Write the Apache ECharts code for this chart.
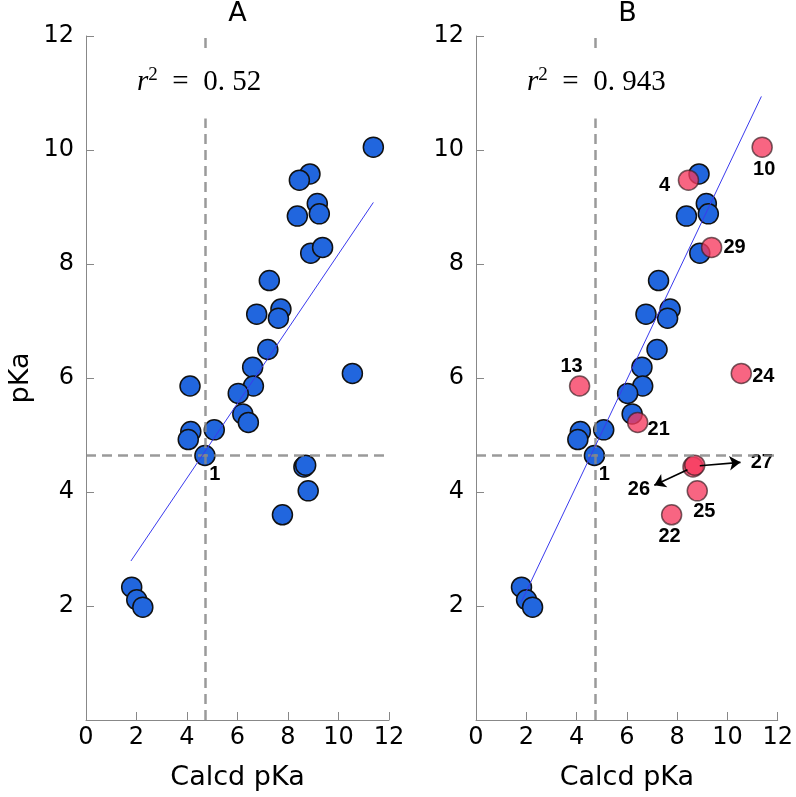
<!DOCTYPE html>
<html><head><meta charset="utf-8">
<script src="https://cdn.jsdelivr.net/npm/echarts@6/dist/echarts.min.js"></script>
<style>html,body{margin:0;padding:0;background:#fff}#c{width:796px;height:797px}</style>
</head><body><div id="c"></div>
<script>
// ---- data ----
const tickValues = [0, 2, 4, 6, 8, 10, 12];
const panelTitles = ['A', 'B'];
const r2Values = ['0. 52', '0. 943'];
// well-predicted compounds (blue)
const blueCalcd = [8.87, 9.16, 8.37, 9.24, 8.90, 7.26, 7.72, 6.76, 7.62, 7.20, 6.60, 6.63, 6.03, 6.21, 4.15, 4.05, 5.08, 4.71, 1.81, 2.01, 2.25];
const blueExpt  = [9.58, 9.06, 8.84, 8.88, 8.19, 7.71, 7.21, 7.12, 7.05, 6.50, 6.19, 5.86, 5.73, 5.37, 5.06, 4.92, 5.09, 4.64, 2.33, 2.11, 1.98];
const blueIds   = ['', '', '', '', '', '', '', '', '', '', '', '', '', '', '', '', '', '1', '', '', ''];
// outlier compounds (red in panel B)
const redIds   = ['10', '4', '29', '13', '21', '24', '26', '27', '25', '22'];
const redCalcd = [11.38, 8.45, 9.37, 4.12, 6.43, 10.55, 8.63, 8.70, 8.80, 7.78];
const redExpt  = [10.05, 9.47, 8.29, 5.86, 5.22, 6.08, 4.44, 4.47, 4.02, 3.60];
// regression line end points [calcd, expt]
const fitA = [[1.78, 2.79], [11.38, 9.08]];
const fitB = [[1.81, 2.08], [11.35, 10.94]];
// reference (dashed) lines
const refCalcd = 4.73;
const refExpt = 4.64;
// arrows from compounds 26 / 27
const arrow26 = [[8.41, 4.39], [7.09, 4.12]];
const arrow27 = [[8.90, 4.46], [10.52, 4.52]];

// ---- styling (pixel offsets for labels) ----
const labelOffsets = {'10':[2,22],'4':[-24,5],'29':[23,0],'13':[-8,-19],'24':[22,3],'21':[21,7],'1':[10,19],'27':[67,-3],'26':[-54,23],'25':[7,21],'22':[-2,22]};
const FONT = 'DejaVu Sans';
const BLUE = '#2166de';

function pts(xs, ys) { return xs.map((x, i) => [x, ys[i]]); }
function labelled(xs, ys, ids) {
  return xs.map((x, i) => {
    const item = { value: [x, ys[i]] };
    if (ids[i]) {
      item.label = { show: true, formatter: ids[i], position: 'inside', offset: labelOffsets[ids[i]],
        color: '#000', fontFamily: 'Liberation Sans', fontWeight: 'bold', fontSize: 20 };
    }
    return item;
  });
}

const grids = [
  { left: 86, top: 36, width: 303, height: 684 },
  { left: 476, top: 36, width: 303, height: 684 }
];
function xAx(i) {
  return { gridIndex: i, type: 'value', min: 0, max: 12, interval: 2,
    name: 'Calcd pKa', nameLocation: 'middle', nameGap: 44,
    nameTextStyle: { fontFamily: FONT, fontSize: 27, color: '#000' },
    axisLine: { lineStyle: { color: '#888', width: 1 } },
    axisTick: { inside: true, length: 8, lineStyle: { color: '#888' } },
    axisLabel: { fontFamily: FONT, fontSize: 24, color: '#000', margin: 6 },
    splitLine: { show: false } };
}
function yAx(i) {
  return { gridIndex: i, type: 'value', min: 0, max: 12, interval: 2,
    name: i === 0 ? 'pKa' : '', nameLocation: 'middle', nameGap: 52,
    nameTextStyle: { fontFamily: FONT, fontSize: 27, color: '#000' },
    axisLine: { show: true, lineStyle: { color: '#888', width: 1 } },
    axisTick: { show: true, inside: true, length: 8, lineStyle: { color: '#888' } },
    axisLabel: { fontFamily: FONT, fontSize: 24, color: '#000', margin: 12,
      formatter: v => (v === 0 ? '' : String(v)) },
    splitLine: { show: false } };
}

const series = [];
for (let i = 0; i < 2; i++) {
  // reference lines
  series.push({ type: 'line', xAxisIndex: i, yAxisIndex: i, data: [], z: 6, silent: true,
    markLine: { silent: true, symbol: 'none', animation: false, label: { show: false },
      lineStyle: { color: '#888', type: [10, 6], width: 2.5, opacity: 0.85 },
      data: [{ xAxis: refCalcd }, { yAxis: refExpt }] } });
  // fit line
  series.push({ type: 'line', xAxisIndex: i, yAxisIndex: i, data: i === 0 ? fitA : fitB,
    showSymbol: false, z: 5, silent: true, lineStyle: { color: '#3a3aee', width: 1 } });
  // blue points
  series.push({ type: 'scatter', xAxisIndex: i, yAxisIndex: i, z: 3,
    data: labelled(blueCalcd, blueExpt, blueIds), symbolSize: 20,
    itemStyle: { color: BLUE, borderColor: '#111', borderWidth: 1.5, opacity: 1 } });
  // red / outlier points
  series.push({ type: 'scatter', xAxisIndex: i, yAxisIndex: i, z: 4,
    data: i === 0 ? pts(redCalcd, redExpt) : labelled(redCalcd, redExpt, redIds), symbolSize: 20,
    itemStyle: i === 0 ? { color: BLUE, borderColor: '#111', borderWidth: 1.5, opacity: 1 }
                       : { color: 'rgba(246,58,95,0.78)', borderColor: 'rgba(60,30,35,0.7)', borderWidth: 1.5, opacity: 1 },
    markLine: i === 0 ? undefined : { silent: true, animation: false, symbol: ['none', 'arrow'], symbolSize: 11,
      label: { show: false }, lineStyle: { color: '#000', type: 'solid', width: 1.6 },
      data: [[{ coord: arrow26[0] }, { coord: arrow26[1] }], [{ coord: arrow27[0] }, { coord: arrow27[1] }]] } });
}

const graphics = [];
const titleX = [237.5, 627.5];
const r2X = [133, 523];
for (let i = 0; i < 2; i++) {
  graphics.push({ type: 'text', x: titleX[i], y: 14, z: 100,
    style: { text: panelTitles[i], align: 'center', verticalAlign: 'middle', fontFamily: FONT, fontSize: 27, fill: '#000' } });
  graphics.push({ type: 'text', x: r2X[i], y: 84, z: 100,
    style: { text: '{i|r}{s|2}  =  ' + r2Values[i], align: 'left', verticalAlign: 'middle',
      fontFamily: 'Liberation Serif', fontSize: 29, fill: '#000', backgroundColor: '#fff', padding: [16, 4, 20, 4],
      rich: { i: { fontStyle: 'italic', fontFamily: 'Liberation Serif', fontSize: 29 },
              s: { fontFamily: 'Liberation Serif', fontSize: 19, verticalAlign: 'top', padding: [0, 0, 14, 0] } } } });
}

const chart = echarts.init(document.getElementById('c'), null, { renderer: 'canvas' });
chart.setOption({
  animation: false,
  backgroundColor: '#fff',
  grid: grids,
  xAxis: [xAx(0), xAx(1)],
  yAxis: [yAx(0), yAx(1)],
  series: series,
  graphic: graphics
});
</script></body></html>
